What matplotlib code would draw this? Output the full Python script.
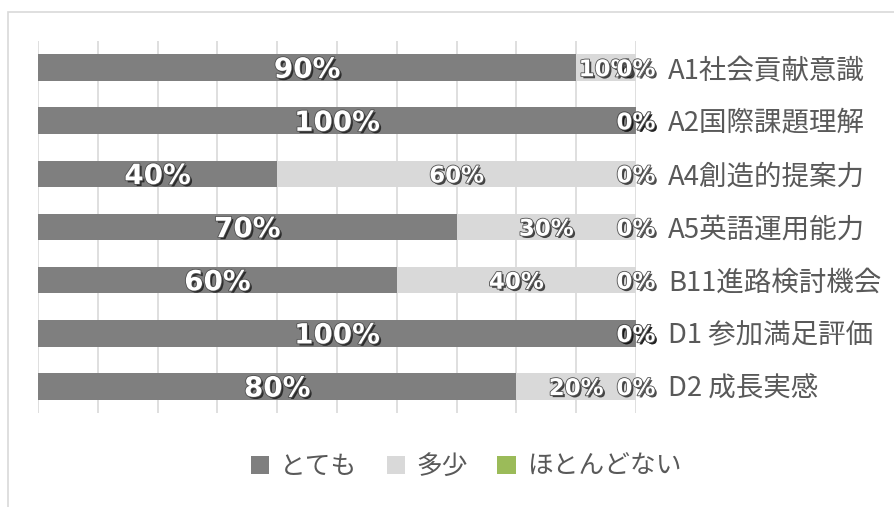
import matplotlib
matplotlib.use("Agg")
import matplotlib.pyplot as plt
import matplotlib.patheffects as pe
from matplotlib.patches import Patch, Rectangle
import numpy as np

plt.rcParams['font.family'] = ['Noto Sans CJK JP', 'DejaVu Sans']

categories = ['A1社会貢献意識', 'A2国際課題理解', 'A4創造的提案力', 'A5英語運用能力',
              'B11進路検討機会', 'D1 参加満足評価', 'D2 成長実感']
series_names = ['とても', '多少', 'ほとんどない']
totemo = [90, 100, 40, 70, 60, 100, 80]
tashou = [10, 0, 60, 30, 40, 0, 20]
hotondo = [0, 0, 0, 0, 0, 0, 0]
colors = ['#7f7f7f', '#d9d9d9', '#9bbb59']

fig = plt.figure(figsize=(8.95, 5.07), dpi=100)
fig.patch.set_facecolor('white')
# outer chart frame
fig.patches.append(Rectangle((8/895, -0.2), 1.2, 1 - 12/507 + 0.2, transform=fig.transFigure,
                             fill=False, edgecolor='#d9d9d9', linewidth=1.2))

ax = fig.add_axes([38/895, 1 - 413/507, (636-38)/895, (413-41)/507])
y = np.arange(len(categories))
data = [totemo, tashou, hotondo]
left = np.zeros(len(categories))
for i, (vals, col, name) in enumerate(zip(data, colors, series_names)):
    vals = np.array(vals, dtype=float)
    ax.barh(y, vals, left=left, height=0.5, color=col, label=name, zorder=2)
    for yi, (l, v) in enumerate(zip(left, vals)):
        cx = l + v / 2
        fs = 20 if i == 0 else 16.5
        ax.text(cx, yi + 0.04, f'{int(v)}%', ha='center', va='center', fontsize=fs,
                fontweight='bold', color='white', family='DejaVu Sans', zorder=5,
                path_effects=[pe.SimplePatchShadow(offset=(1.5, -1.5), shadow_rgbFace='#111111', alpha=0.75),
                              pe.Stroke(linewidth=1.2, foreground='#505050'), pe.Normal()])
    left = left + vals

ax.set_xlim(0, 100)
ax.set_ylim(len(categories) - 0.5, -0.5)
ax.set_xticks(np.arange(0, 101, 10))
ax.set_xticklabels([])
ax.tick_params(axis='x', length=0)
ax.grid(axis='x', color='#d9d9d9', linewidth=1.2, zorder=0)
ax.set_axisbelow(True)
for s in ax.spines.values():
    s.set_visible(False)
ax.yaxis.tick_right()
ax.set_yticks(y)
ax.set_yticklabels(categories, fontsize=19.8, color='#595959')
ax.tick_params(axis='y', length=0, pad=23)

handles = [Patch(facecolor=c, edgecolor='none') for c in colors]
fig.legend(handles, series_names, loc='center', bbox_to_anchor=(466/895, 1 - 467/507),
           ncol=3, frameon=False, fontsize=18.5, labelcolor='#595959',
           handlelength=0.72, handleheight=0.72, handletextpad=0.42, columnspacing=1.15)

fig.savefig('out.png', dpi=100)
